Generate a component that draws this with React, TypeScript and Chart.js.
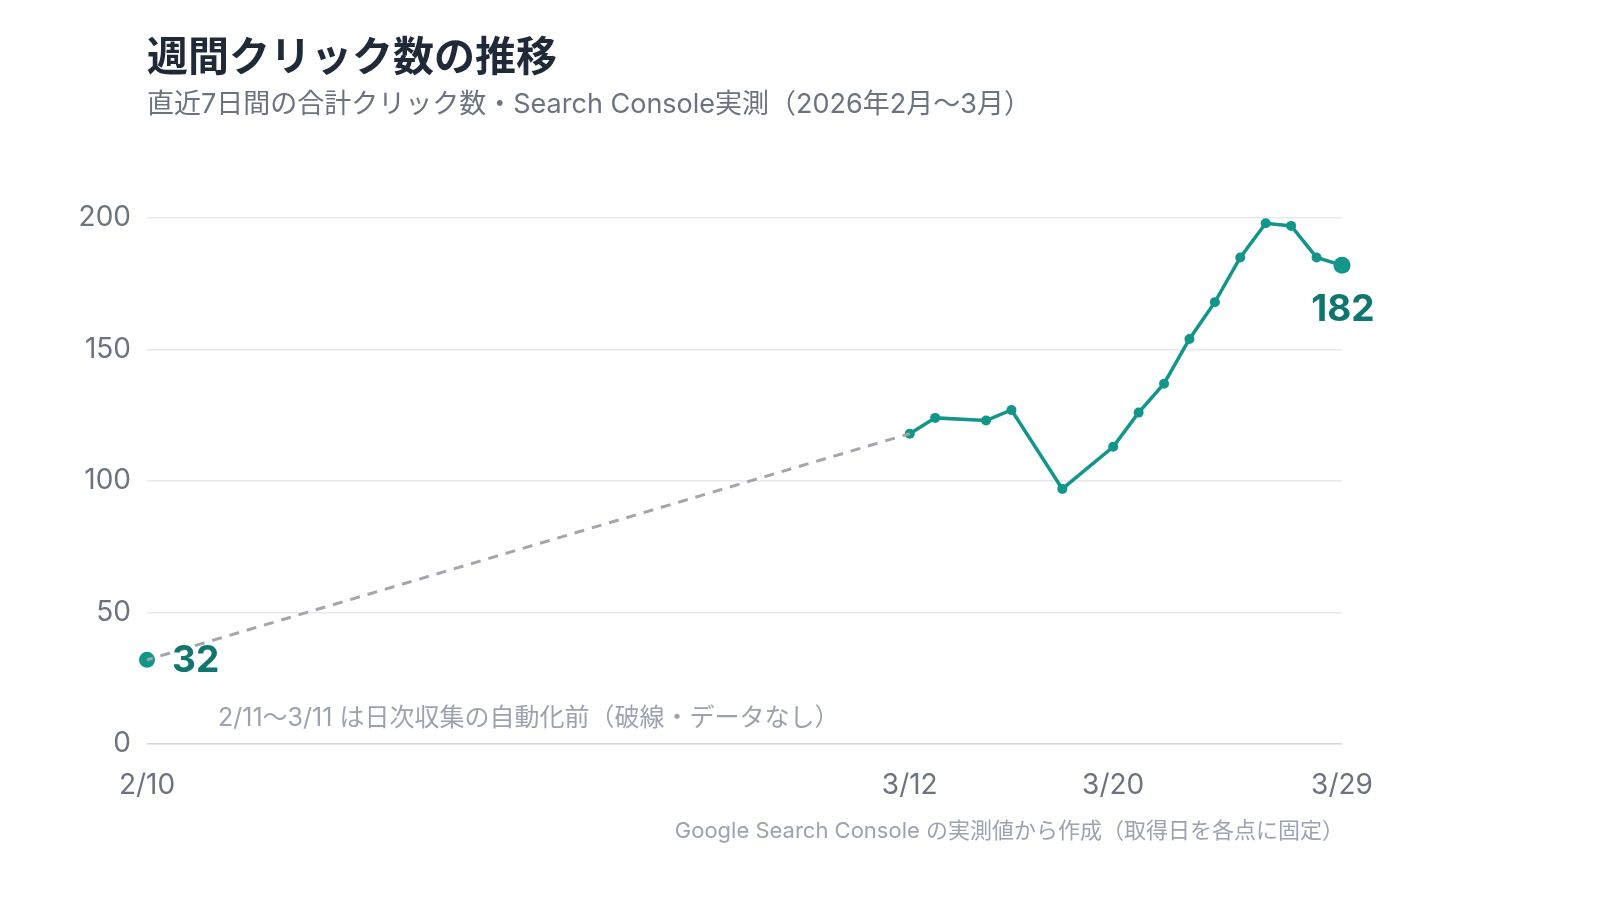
import React, { useEffect, useRef } from "react";
import { Chart, registerables } from "chart.js";

Chart.register(...registerables);

const TITLE = "週間クリック数の推移";
const SUBTITLE = "直近7日間の合計クリック数・Search Console実測（2026年2月〜3月）";
const GAP_NOTE = "2/11〜3/11 は日次収集の自動化前（破線・データなし）";
const FOOTER = "Google Search Console の実測値から作成（取得日を各点に固定）";

const START_DATE = "2/10";
const START_CLICKS = 32;
const MEASURED_DATES = ["3/12", "3/13", "3/15", "3/16", "3/18", "3/20", "3/21", "3/22", "3/23", "3/24", "3/25", "3/26", "3/27", "3/28", "3/29"];
const MEASURED_CLICKS = [118, 124, 123, 127, 97, 113, 126, 137, 154, 168, 185, 198, 197, 185, 182];
const TICK_DATES = ["2/10", "3/12", "3/20", "3/29"];
const Y_TICKS = [0, 50, 100, 150, 200];

const FONT = "Inter, 'Noto Sans CJK JP', sans-serif";
const CJK_FONT = "'Noto Sans CJK JP', sans-serif";
const TEAL = "#13968a";
const TEAL_DARK = "#0f766e";
const GRAY_TEXT = "#6b7280";
const LIGHT_TEXT = "#9ca3af";

// days since 2026-02-10 (Feb 2026 has 28 days)
function dayOf(s: string): number {
  const [m, d] = s.split("/").map(Number);
  return m === 2 ? d - 10 : 18 + d;
}
function labelOf(day: number): string {
  return day <= 18 ? `2/${day + 10}` : `3/${day - 18}`;
}

const labelPlugin = {
  id: "labels",
  afterDatasetsDraw(chart: any) {
    const { ctx, scales } = chart;
    const xs = scales.x;
    const ys = scales.y;
    ctx.save();
    // title & subtitle
    ctx.textAlign = "left";
    ctx.textBaseline = "middle";
    ctx.fillStyle = "#1f2937";
    ctx.font = `bold 41px ${CJK_FONT}`;
    ctx.fillText(TITLE, 147, 55);
    ctx.fillStyle = GRAY_TEXT;
    ctx.font = `27px ${FONT}`;
    ctx.fillText(SUBTITLE, 147, 105);

    // start label
    const sx = xs.getPixelForValue(dayOf(START_DATE));
    const sy = ys.getPixelForValue(START_CLICKS);
    ctx.fillStyle = TEAL_DARK;
    ctx.font = `bold 37px ${FONT}`;
    ctx.textAlign = "left";
    ctx.fillText(String(START_CLICKS), sx + 25, sy + 1);

    // end label
    const li = MEASURED_DATES.length - 1;
    const ex = xs.getPixelForValue(dayOf(MEASURED_DATES[li]));
    const ey = ys.getPixelForValue(MEASURED_CLICKS[li]);
    ctx.textAlign = "center";
    ctx.fillText(String(MEASURED_CLICKS[li]), ex + 1, ey + 45);

    // gap note
    ctx.fillStyle = LIGHT_TEXT;
    ctx.font = `25px ${FONT}`;
    ctx.textAlign = "left";
    ctx.fillText(GAP_NOTE, sx + 71, ys.getPixelForValue(0) - 26);

    // footer
    ctx.textAlign = "right";
    ctx.font = `22px ${FONT}`;
    ctx.fillText(FOOTER, chart.chartArea.right + 2, 831);
    ctx.restore();
  },
};

export default function App() {
  const ref = useRef<HTMLCanvasElement>(null);
  useEffect(() => {
    if (!ref.current) return;
    const startDay = dayOf(START_DATE);
    const measured = MEASURED_DATES.map((d, i) => ({ x: dayOf(d), y: MEASURED_CLICKS[i] }));
    const last = measured.length - 1;
    const chart = new Chart(ref.current, {
      type: "line",
      data: {
        datasets: [
          {
            data: [
              { x: startDay, y: START_CLICKS },
              measured[0],
            ],
            borderColor: "#a3a6ad",
            borderWidth: 3,
            borderDash: [10, 8],
            borderDashOffset: 4,
            pointRadius: 0,
            clip: false,
          } as any,
          {
            data: measured,
            borderColor: TEAL,
            backgroundColor: TEAL,
            borderWidth: 3.5,
            pointRadius: measured.map((_, i) => (i === last ? 8.5 : 5)),
            pointBorderWidth: 0,
            pointBackgroundColor: TEAL,
            tension: 0,
            clip: false,
          } as any,
          {
            data: [{ x: startDay, y: START_CLICKS }],
            showLine: false,
            pointRadius: 8,
            pointBorderWidth: 0,
            pointBackgroundColor: TEAL,
            clip: false,
          } as any,
        ],
      },
      options: {
        animation: false,
        responsive: true,
        maintainAspectRatio: false,
        layout: { padding: { top: 218, right: 258, left: 0, bottom: 0 } },
        plugins: { legend: { display: false }, tooltip: { enabled: false } },
        scales: {
          x: {
            type: "linear",
            min: dayOf(TICK_DATES[0]),
            max: dayOf(TICK_DATES[TICK_DATES.length - 1]),
            grid: { display: false, drawTicks: false },
            border: { display: false },
            afterBuildTicks: (scale: any) => {
              scale.ticks = TICK_DATES.map((d) => ({ value: dayOf(d) }));
            },
            afterFit: (scale: any) => {
              scale.height = 156;
            },
            ticks: {
              padding: 25,
              maxRotation: 0,
              autoSkip: false,
              color: GRAY_TEXT,
              font: { family: FONT, size: 28 },
              callback: (v: any) => labelOf(Number(v)),
            },
          },
          y: {
            min: 0,
            max: 200,
            afterBuildTicks: (scale: any) => {
              scale.ticks = Y_TICKS.map((v) => ({ value: v }));
            },
            afterFit: (scale: any) => {
              scale.width = 147;
            },
            grid: {
              drawTicks: false,
              lineWidth: 1.5,
              color: (c: any) => (c.tick && c.tick.value === 0 ? "#d4d6da" : "#e8e9ec"),
            },
            border: { display: false },
            ticks: {
              padding: 16,
              color: GRAY_TEXT,
              font: { family: FONT, size: 28 },
            },
          },
        },
      },
      plugins: [labelPlugin],
    } as any);
    return () => chart.destroy();
  }, []);
  return (
    <div style={{ position: "absolute", left: 0, top: 0, width: 1600, height: 900, background: "#fff" }}>
      <canvas ref={ref} />
    </div>
  );
}
